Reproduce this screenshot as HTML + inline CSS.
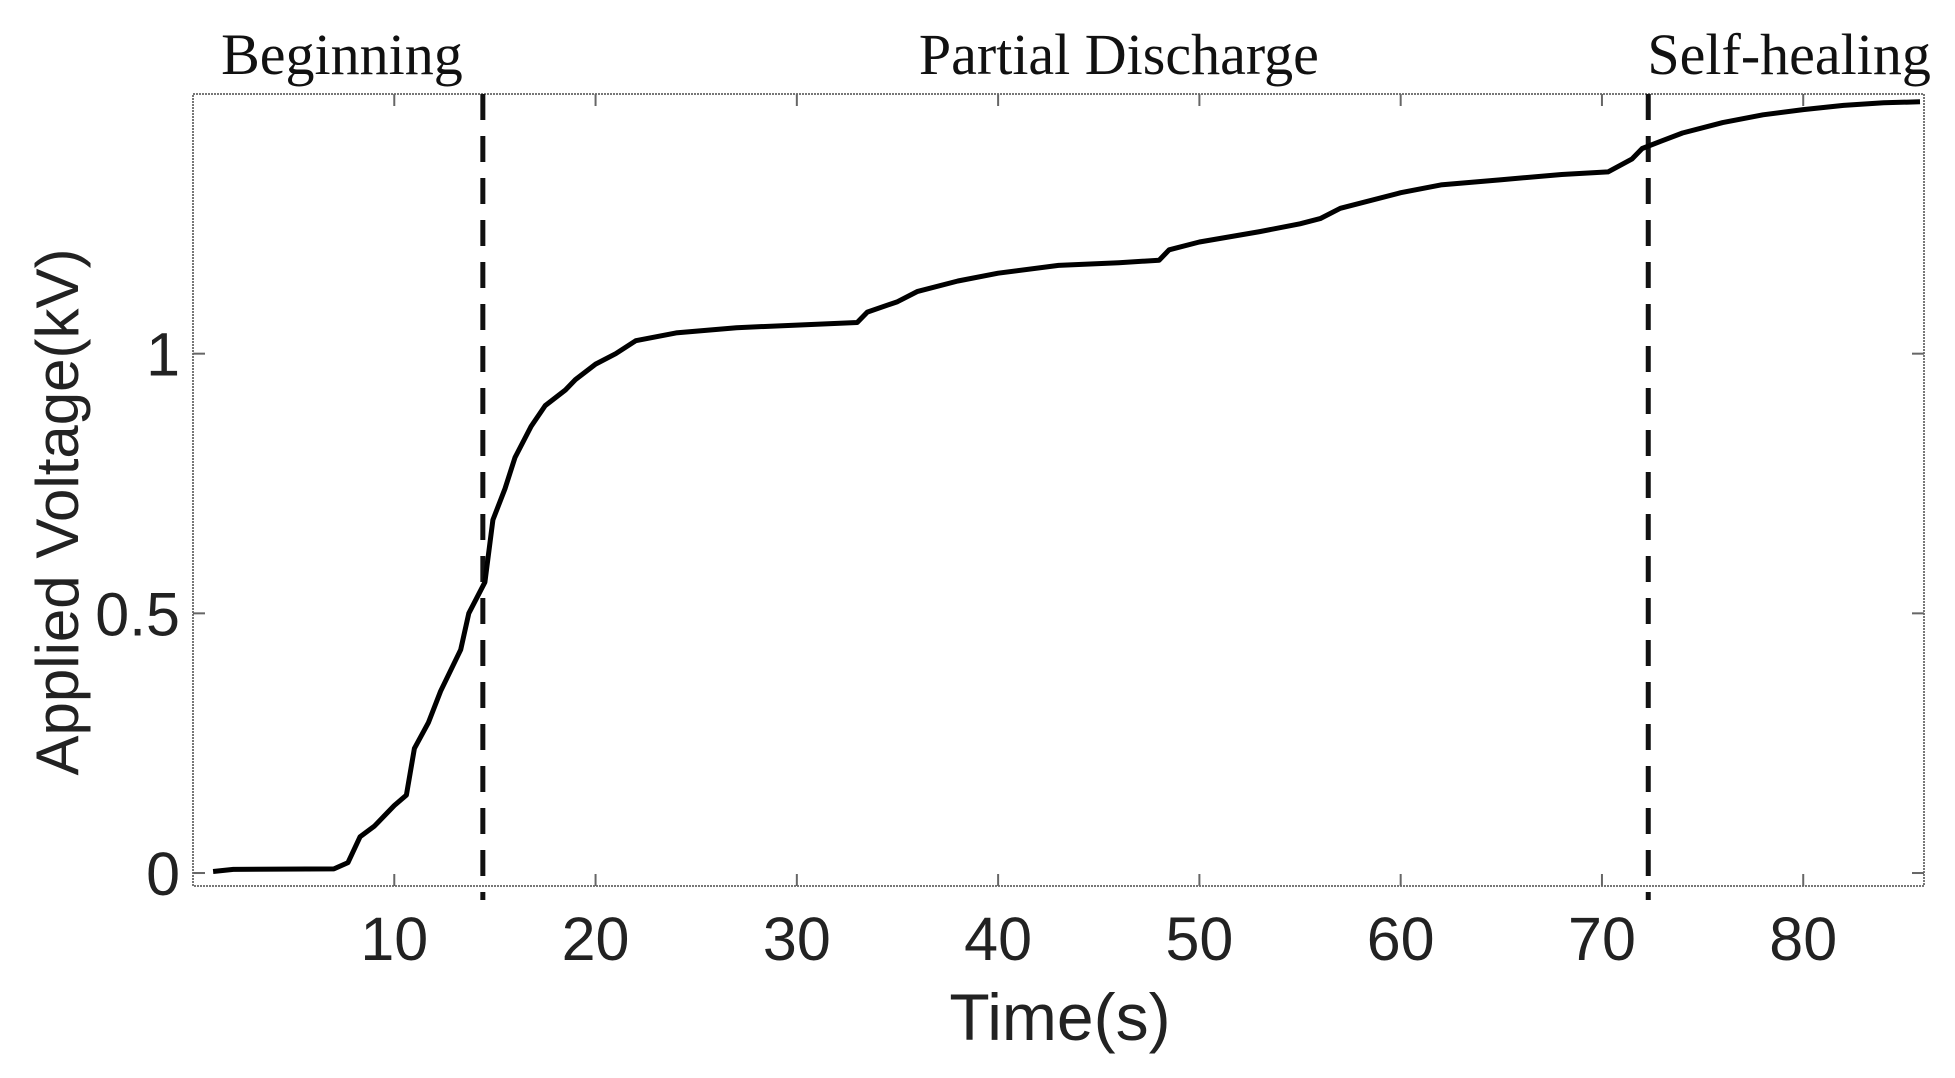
<!DOCTYPE html>
<html><head><meta charset="utf-8"><style>
html,body{margin:0;padding:0;background:#fff;}
svg{display:block;}
</style></head><body>
<svg id="chart" width="1955" height="1078" xmlns="http://www.w3.org/2000/svg">
<g id="axes"></g>
<g id="marks"></g>
<g id="labels"></g>
</svg>
<script>
const times = [1,2,7,7.7,8.3,9,10,10.6,11,11.7,12.3,13.3,13.7,14.5,14.9,15.5,16,16.8,17.5,18.5,19,20,21,22,24,27,30,33,33.5,35,36,38,40,43,46,48,48.5,50,53,55,56,57,60,62,65,68,70.3,71.5,72,73,74,76,78,80,82,84,85.8];
const voltages = [0.003,0.007,0.008,0.02,0.07,0.09,0.13,0.15,0.24,0.29,0.35,0.43,0.5,0.56,0.68,0.74,0.8,0.86,0.9,0.93,0.95,0.98,1.0,1.025,1.04,1.05,1.055,1.06,1.08,1.1,1.12,1.14,1.155,1.17,1.175,1.18,1.2,1.215,1.235,1.25,1.26,1.28,1.31,1.325,1.335,1.345,1.35,1.375,1.395,1.41,1.425,1.445,1.46,1.47,1.478,1.483,1.485];
const xTicks = [10,20,30,40,50,60,70,80];
const yTicks = [0,0.5,1];
const yTickLabels = ["0","0.5","1"];
const phaseBounds = [14.4,72.3];
const phaseNames = ["Beginning","Partial Discharge","Self-healing"];
const phaseCenters = [7.4,46.0,79.3];

const L=193,R=1924,T=94,B=886;
const X0=0,X1=86,Y0=-0.025,Y1=1.5;
const xs=v=>L+(v-X0)/(X1-X0)*(R-L);
const ys=v=>B-(v-Y0)/(Y1-Y0)*(B-T);
const NS="http://www.w3.org/2000/svg";
function mk(tag,parent,attrs){const e=document.createElementNS(NS,tag);for(const k in attrs)e.setAttribute(k,attrs[k]);parent.appendChild(e);return e;}
const axes=document.getElementById('axes'),marks=document.getElementById('marks'),labels=document.getElementById('labels');

const frame=mk('rect',axes,{x:L,y:T,width:R-L,height:B-T,fill:'none',stroke:'#777','stroke-width':2,'stroke-dasharray':'2 1'});



xTicks.forEach(t=>{
  const x=xs(t);
  const a=mk('line',axes,{x1:x,x2:x,y1:B,y2:B-12,stroke:'#666','stroke-width':2});
  
  
  const b=mk('line',axes,{x1:x,x2:x,y1:T,y2:T+12,stroke:'#666','stroke-width':2});
  
  
  const tx=mk('text',axes,{x:x,y:960,'text-anchor':'middle','font-family':'Liberation Sans, sans-serif','font-size':61,fill:'#222'});
  tx.textContent=t;
  
  
});
yTicks.forEach((t,i)=>{
  const y=ys(t);
  const a=mk('line',axes,{x1:L,x2:L+12,y1:y,y2:y,stroke:'#666','stroke-width':2});
  
  
  const b=mk('line',axes,{x1:R,x2:R-12,y1:y,y2:y,stroke:'#666','stroke-width':2});
  
  
  const tx=mk('text',axes,{x:180,y:y+22,'text-anchor':'end','font-family':'Liberation Sans, sans-serif','font-size':61,fill:'#222'});
  tx.textContent=yTickLabels[i];
  
  
});

phaseBounds.forEach(v=>{
  const x=xs(v);
  const d=mk('line',marks,{x1:x,x2:x,y1:T,y2:B+14,stroke:'#111','stroke-width':5,'stroke-dasharray':'26 16'});
  
  
});

const pts=times.map((t,i)=>xs(t).toFixed(1)+','+ys(voltages[i]).toFixed(1)).join(' ');
const line=mk('polyline',marks,{points:pts,fill:'none',stroke:'#000','stroke-width':5,'stroke-linejoin':'round'});



phaseNames.forEach((n,i)=>{
  let x=xs(phaseCenters[i]);
  const tx=mk('text',labels,{x:x,y:74,'text-anchor':'middle','font-family':'Liberation Serif, serif','font-size':58,fill:'#111'});
  tx.textContent=n;
  
  
});

const xt=mk('text',labels,{x:1060,y:1040,'text-anchor':'middle','font-family':'Liberation Sans, sans-serif','font-size':66,fill:'#222'});
xt.textContent='Time(s)';


const yt=mk('text',labels,{x:0,y:0,'text-anchor':'middle','font-family':'Liberation Sans, sans-serif','font-size':60,fill:'#222',transform:'translate(78,512) rotate(-90)'});
yt.textContent='Applied Voltage(kV)';


</script>
</body></html>
